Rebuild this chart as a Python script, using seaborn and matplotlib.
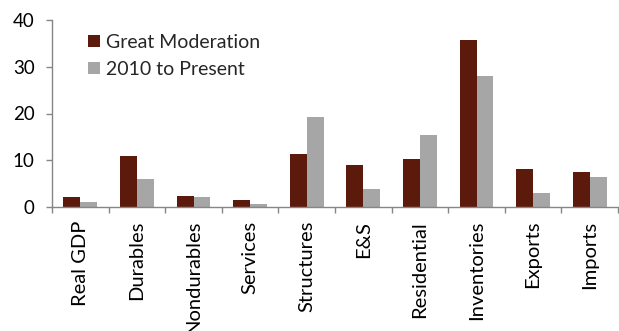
import numpy as np
import pandas as pd
import matplotlib
matplotlib.use("Agg")
import matplotlib.pyplot as plt
import seaborn as sns
from matplotlib.ticker import FixedLocator

categories = ["Real GDP", "Durables", "Nondurables", "Services", "Structures",
              "E&S", "Residential", "Inventories", "Exports", "Imports"]
great_moderation = [2.1, 10.9, 2.4, 1.6, 11.4, 9.0, 10.2, 35.7, 8.1, 7.4]
present_2010 = [1.1, 5.9, 2.1, 0.7, 19.3, 3.9, 15.3, 28.1, 2.9, 6.5]
series_names = ["Great Moderation", "2010 to Present"]
colors = ["#5C1A0D", "#A6A6A6"]
y_ticks = [0, 10, 20, 30, 40]

df = pd.DataFrame({
    "category": categories * 2,
    "value": great_moderation + present_2010,
    "series": [series_names[0]] * len(categories) + [series_names[1]] * len(categories),
})

sns.set_theme(style="white")
plt.rcParams["font.family"] = ["Lato", "DejaVu Sans"]

fig = plt.figure(figsize=(6.19, 3.31), dpi=100)
ax = fig.add_axes([52/619, 1-207/331, 566/619, 187/331])

sns.barplot(data=df, x="category", y="value", hue="series", order=categories,
            hue_order=series_names, palette=colors, width=0.6, saturation=1,
            ax=ax, edgecolor="none")

ax.set_xlim(-0.5, len(categories) - 0.5)
ax.set_ylim(0, 40)
ax.set_yticks(y_ticks)
ax.set_xlabel("")
ax.set_ylabel("")

axis_col = "#868686"
for s in ["top", "right"]:
    ax.spines[s].set_visible(False)
for s in ["left", "bottom"]:
    ax.spines[s].set_color(axis_col)
    ax.spines[s].set_linewidth(1.0)

ax.tick_params(axis="y", which="major", direction="out", length=4.5, width=1,
               color=axis_col, labelsize=13.5, labelcolor="black", pad=8, left=True)
ax.tick_params(axis="x", which="major", length=0, labelsize=14.5, labelcolor="black",
               pad=10, rotation=90)
ax.xaxis.set_minor_locator(FixedLocator(np.arange(-0.5, len(categories), 1.0)))
ax.tick_params(axis="x", which="minor", direction="out", length=4.5, width=1,
               color=axis_col, bottom=True)
for lbl in ax.get_xticklabels():
    lbl.set_verticalalignment("top")

leg = ax.legend(loc="upper left", bbox_to_anchor=(0.064, 0.925), frameon=False,
                fontsize=14, handlelength=0.62, handleheight=0.62, handletextpad=0.3,
                labelspacing=0.5, borderaxespad=0, borderpad=0)

fig.savefig("out.png", dpi=100)
